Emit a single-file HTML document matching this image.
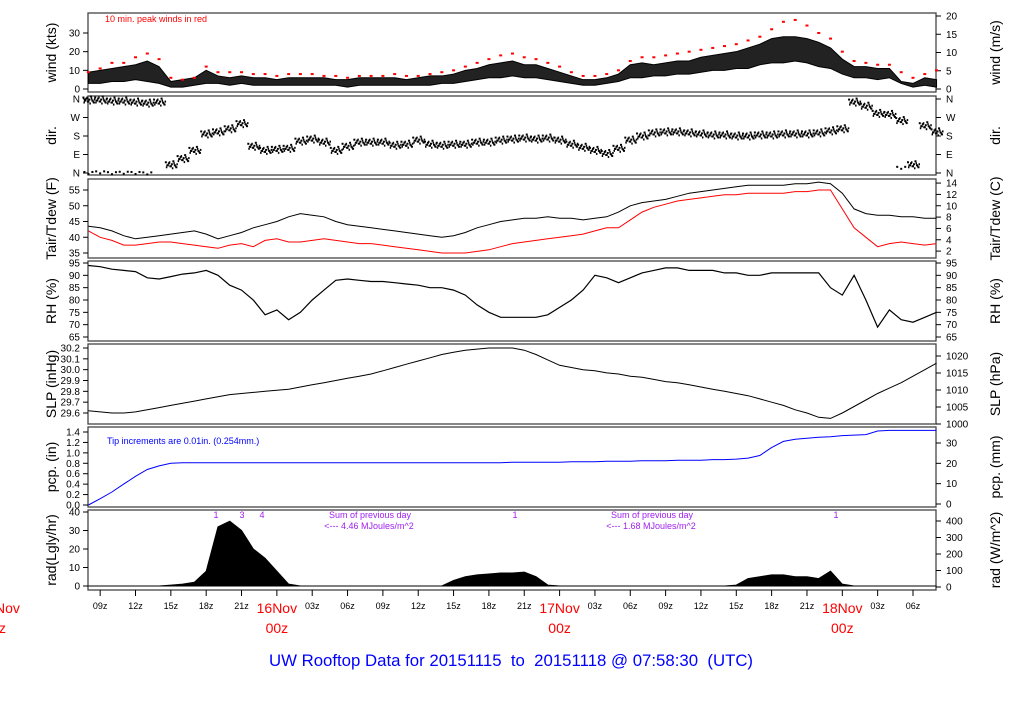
<!DOCTYPE html>
<html><head><meta charset="utf-8"><style>
body{margin:0;background:#fff;width:1024px;height:700px;overflow:hidden;font-family:"Liberation Sans",sans-serif}
svg text{font-family:"Liberation Sans",sans-serif}
</style></head><body>
<svg id="c" width="1024" height="700" xmlns="http://www.w3.org/2000/svg"></svg>
<script>
const windLo=[3,3,4,4,5,4,3,1,1,2,3,3,2,3,2,2,2,2,2,2,2,2,1,2,2,2,2,2,2,2,3,3,4,5,6,6,7,6,6,5,4,3,2,2,3,4,6,6,7,7,8,8,9,10,10,11,11,13,14,14,15,14,12,11,8,6,6,5,6,3,1,2,1];
const windHi=[9,10,11,12,13,15,12,4,5,6,10,7,6,7,6,6,5,6,6,6,6,5,5,6,6,6,6,5,6,7,7,8,10,11,13,14,15,13,13,11,9,7,5,5,6,8,13,14,13,14,15,15,17,18,19,20,22,24,27,28,28,27,25,22,16,12,12,11,11,4,3,6,5];
const gust=[9,11,14,14,17,19,16,6,5,6,12,9,9,9,8,8,7,8,8,8,7,7,6,7,7,7,8,7,7,8,9,10,12,14,16,18,19,17,16,14,12,9,7,7,8,10,15,17,17,18,19,20,21,22,23,24,26,28,32,36,37,34,30,27,20,15,14,13,13,9,6,8,10];
const dir=[355,355,350,350,345,340,345,40,70,110,190,200,215,240,130,110,115,120,155,165,150,110,130,150,150,150,135,140,160,140,135,140,140,150,150,160,165,170,165,170,160,140,125,110,95,120,160,180,195,200,200,195,190,185,185,180,180,185,185,190,190,190,195,205,215,345,325,290,285,255,40,230,200];
const dirLow=[5,8,4,6,5,3,null,null,null,null,null,null,null,null,null,null,null,null,null,null,null,null,null,null,null,null,null,null,null,null,null,null,null,null,null,null,null,null,null,null,null,null,null,null,null,null,null,null,null,null,null,null,null,null,null,null,null,null,null,null,null,null,null,null,null,null,null,null,null,30,null,null,null];
const tair=[43.5,43,42,40.5,39.5,40,40.5,41,41.5,42,41,39.5,40.5,41.5,43,44,45,46.5,47.5,47,46.5,45,44,43.5,43,42.5,42,41.5,41,40.5,40,40.5,41.5,43,44,45,45.5,46,46,46.5,46,46,45.5,46,46.5,48,50,51,51.5,52,53,54,54.5,55,55.5,56,56.5,56.5,56.5,56.5,57,57,57.5,57,54,49,47.5,47,47,46.5,46.5,46,46];
const tdew=[42,40,39,37.5,37.5,38,38.5,38.5,38,37.5,37,36.5,37.5,38,37,39,39.5,38.5,38.5,39,39.5,39,38.5,38,38,37.5,37,36.5,36,35.5,35,35,35,35.5,36,37,38,38.5,39,39.5,40,40.5,41,42,43,43,45.5,48,49.5,50.5,51.5,52,52.5,53,53.5,53.5,54,54,54,54,54.5,54.5,55,55,49,43,40,37,38,38.5,38,37.5,38];
const rh=[94,93.5,92.5,92,91.5,89,88.5,89.5,90.5,91,92,90,86,84,80,74,76,72,75,80,84,88,88.5,88,87.5,87.5,87,86.5,86,85,85,84,82,78,75,73,73,73,73,74,77,80,84,90,89,87,89,91,92,93,93,92,92,92,91,91,90,90,91,91,91,91,91,85,82,90,80,69,76,72,71,73,75];
const slp=[29.62,29.61,29.60,29.60,29.61,29.63,29.65,29.67,29.69,29.71,29.73,29.75,29.77,29.78,29.79,29.80,29.81,29.82,29.84,29.86,29.88,29.90,29.92,29.94,29.96,29.99,30.02,30.05,30.08,30.11,30.14,30.16,30.18,30.19,30.20,30.20,30.20,30.18,30.14,30.09,30.04,30.02,30.00,29.99,29.97,29.96,29.94,29.93,29.91,29.89,29.88,29.86,29.84,29.82,29.80,29.78,29.76,29.73,29.70,29.67,29.63,29.60,29.56,29.55,29.60,29.66,29.72,29.78,29.83,29.88,29.94,30.00,30.06];
const pcp=[0,0.12,0.25,0.4,0.55,0.68,0.75,0.8,0.81,0.81,0.81,0.81,0.81,0.81,0.81,0.81,0.81,0.81,0.81,0.81,0.81,0.81,0.81,0.81,0.81,0.81,0.81,0.81,0.81,0.81,0.81,0.81,0.81,0.81,0.81,0.81,0.82,0.82,0.82,0.82,0.82,0.83,0.83,0.83,0.84,0.84,0.84,0.85,0.85,0.85,0.86,0.86,0.86,0.87,0.87,0.88,0.9,0.95,1.1,1.22,1.26,1.28,1.30,1.31,1.33,1.34,1.35,1.42,1.43,1.43,1.43,1.43,1.43];
const rad=[0,0,0,0,0,0,0,0.5,1,2,8,32,35,30,20,15,8,1,0,0,0,0,0,0,0,0,0,0,0,0,0,3,5,6,6.5,7,7,7.5,5,0.5,0,0,0,0,0,0,0,0,0,0,0,0,0,0,0,0.5,4,5,6,6,5,5,4,8,1,0,0,0,0,0,0,0,0];
const xTickLabels=["09z","12z","15z","18z","21z","","03z","06z","09z","12z","15z","18z","21z","","03z","06z","09z","12z","15z","18z","21z","","03z","06z"];
const dayLabels=["16Nov","17Nov","18Nov"];

const svg=document.getElementById('c');const NS='http://www.w3.org/2000/svg';
function mk(t,a,p,txt){const e=document.createElementNS(NS,t);for(const k in a)e.setAttribute(k,a[k]);if(txt!==undefined)e.textContent=txt;(p||svg).appendChild(e);return e;}
const X0=88,X1=936,PXH=11.78;
function xh(i){return X0+(i+0.033)*PXH;}
function lin(v0,y0,v1,y1){return v=>y0+(v-v0)*(y1-y0)/(v1-v0);}
const panels=[
{n:'wind',t:13,b:92,L:'wind (kts)',R:'wind (m/s)',ly:lin(0,89,30,33),lt:[[0,'0'],[10,'10'],[20,'20'],[30,'30']],ry:lin(0,89,20,16),rt:[[0,'0'],[5,'5'],[10,'10'],[15,'15'],[20,'20']]},
{n:'dir',t:96,b:175,L:'dir.',R:'dir.',ly:lin(0,173,360,99),lt:[[0,'N'],[90,'E'],[180,'S'],[270,'W'],[360,'N']],ry:lin(0,173,360,99),rt:[[0,'N'],[90,'E'],[180,'S'],[270,'W'],[360,'N']]},
{n:'temp',t:179,b:258,L:'Tair/Tdew (F)',R:'Tair/Tdew (C)',ly:lin(35,253,55,190),lt:[[35,'35'],[40,'40'],[45,'45'],[50,'50'],[55,'55']],ry:null,rt:[[2,'2'],[4,'4'],[6,'6'],[8,'8'],[10,'10'],[12,'12'],[14,'14']]},
{n:'rh',t:261,b:341,L:'RH (%)',R:'RH (%)',ly:lin(65,337,95,263),lt:[[65,'65'],[70,'70'],[75,'75'],[80,'80'],[85,'85'],[90,'90'],[95,'95']],ry:lin(65,337,95,263),rt:[[65,'65'],[70,'70'],[75,'75'],[80,'80'],[85,'85'],[90,'90'],[95,'95']]},
{n:'slp',t:344,b:424,L:'SLP (inHg)',R:'SLP (hPa)',ly:lin(29.6,413,30.2,348),lt:[[29.6,'29.6'],[29.7,'29.7'],[29.8,'29.8'],[29.9,'29.9'],[30.0,'30.0'],[30.1,'30.1'],[30.2,'30.2']],ry:lin(1000,424,1020,356),rt:[[1000,'1000'],[1005,'1005'],[1010,'1010'],[1015,'1015'],[1020,'1020']]},
{n:'pcp',t:427,b:507,L:'pcp. (in)',R:'pcp. (mm)',ly:lin(0,505,1.4,432),lt:[[0,'0.0'],[0.2,'0.2'],[0.4,'0.4'],[0.6,'0.6'],[0.8,'0.8'],[1.0,'1.0'],[1.2,'1.2'],[1.4,'1.4']],ry:lin(0,504,30,443),rt:[[0,'0'],[10,'10'],[20,'20'],[30,'30']]},
{n:'rad',t:510,b:590,L:'rad(Lgly/hr)',R:'rad (W/m^2)',ly:lin(0,586,40,512),lt:[[0,'0'],[10,'10'],[20,'20'],[30,'30'],[40,'40']],ry:lin(0,587,400,521),rt:[[0,'0'],[100,'100'],[200,'200'],[300,'300'],[400,'400']]}
];
panels[2].ry=c=>panels[2].ly(c*9/5+32);
panels.forEach(p=>{
 const g=mk('g',{});
 mk('rect',{x:X0,y:p.t,width:X1-X0,height:p.b-p.t,fill:'none',stroke:'#444','stroke-width':1.3},g);
 p.lt.forEach(([v,s])=>{const y=p.ly(v);mk('line',{x1:X0-5,x2:X0,y1:y,y2:y,stroke:'#000'},g);mk('text',{x:X0-8,y:y+3.5,'font-size':10,'text-anchor':'end'},g,s);});
 p.rt.forEach(([v,s])=>{const y=p.ry(v);mk('line',{x1:X1,x2:X1+5,y1:y,y2:y,stroke:'#000'},g);mk('text',{x:X1+10,y:y+3.5,'font-size':10},g,s);});
 const cy=(p.t+p.b)/2;
 const l=mk('text',{x:0,y:0,'font-size':14,'text-anchor':'middle',transform:`translate(56,${cy}) rotate(-90)`},g,p.L);
 const r=mk('text',{x:0,y:0,'font-size':14,'text-anchor':'middle',transform:`translate(1000,${cy}) rotate(-90)`},g,p.R);
});
function poly(arr,sc,col,w,name){const pts=arr.map((v,i)=>xh(i).toFixed(1)+','+sc(v).toFixed(1)).join(' ');const e=mk('polyline',{points:pts,fill:'none',stroke:col,'stroke-width':w});return e;}
const P=panels;
let bp=windHi.map((v,i)=>xh(i)+','+P[0].ly(v)).concat(windLo.map((v,i)=>[xh(i),P[0].ly(v)]).reverse().map(a=>a[0]+','+a[1])).join(' ');
const wb=mk('polygon',{points:bp,fill:'#222',stroke:'#000','stroke-width':1});
gust.forEach((v,i)=>{const e=mk('rect',{x:xh(i)-1.5,y:P[0].ly(v)-1,width:3,height:2,fill:'red'});});
mk('text',{x:105,y:22,'font-size':9,fill:'red'},null,'10 min. peak winds in red');
const jit=[-2,1,-1,2,0,-3,1,3];
dir.forEach((v,i)=>{const y=P[1].ly(v);const g=mk('g',{});
 for(let k=0;k<8;k++){mk('rect',{x:xh(i)-6+k*1.5,y:y+jit[k]-1.5,width:2,height:2,fill:'#000'},g);mk('rect',{x:xh(i)-5+k*1.5,y:y+jit[(k+3)%8]-0.5,width:1.5,height:2,fill:'#000'},g);}});
dirLow.forEach((v,i)=>{if(v!==null){const y=P[1].ly(v);for(let k=0;k<3;k++){const e=mk('rect',{x:xh(i)-5+k*4,y:y-1+(k%2)*2,width:2,height:2,fill:'#000'});}}});
poly(tair,P[2].ly,'#000',1,'tair-line');
poly(tdew,P[2].ly,'red',1,'tdew-line');
poly(rh,P[3].ly,'#000',1.2,'rh-line');
poly(slp,P[4].ly,'#000',1,'slp-line');
poly(pcp,P[5].ly,'blue',1,'pcp-line');
mk('text',{x:107,y:444,'font-size':9,fill:'blue'},null,'Tip increments are 0.01in. (0.254mm.)');
const rp=[xh(0)+','+P[6].ly(0)].concat(rad.map((v,i)=>xh(i)+','+P[6].ly(v))).concat([xh(rad.length-1)+','+P[6].ly(0)]).join(' ');
const ra=mk('polygon',{points:rp,fill:'#000',stroke:'#000'});
[[216,'1'],[242,'3'],[262,'4'],[515,'1'],[836,'1']].forEach(([x,s])=>mk('text',{x:x,y:518,'font-size':9,fill:'#a020f0','text-anchor':'middle'},null,s));
[[370,'Sum of previous day',518],[369,'<--- 4.46 MJoules/m^2',529],[652,'Sum of previous day',518],[651,'<--- 1.68 MJoules/m^2',529]].forEach(([x,s,y])=>{const e=mk('text',{x:x,y:y,'font-size':9,fill:'#a020f0','text-anchor':'middle'},null,s);});
xTickLabels.forEach((s,k)=>{const x=xh(1+3*k);mk('line',{x1:x,x2:x,y1:590,y2:596,stroke:'#000'});if(s)mk('text',{x:x,y:609,'font-size':9,'text-anchor':'middle'},null,s);});
dayLabels.forEach((s,k)=>{const x=xh(16+24*k);mk('text',{x:x,y:613,'font-size':14,fill:'red','text-anchor':'middle'},null,s);mk('text',{x:x,y:633,'font-size':14,fill:'red','text-anchor':'middle'},null,'00z');});
mk('text',{x:-5,y:613,'font-size':14,fill:'red'},null,'Nov');mk('text',{x:-1,y:633,'font-size':14,fill:'red'},null,'z');
const tt=mk('text',{x:511,y:666,'font-size':16.8,fill:'blue','text-anchor':'middle',style:'white-space:pre'},null,'UW Rooftop Data for 20151115  to  20151118 @ 07:58:30  (UTC)');
</script>
</body></html>
